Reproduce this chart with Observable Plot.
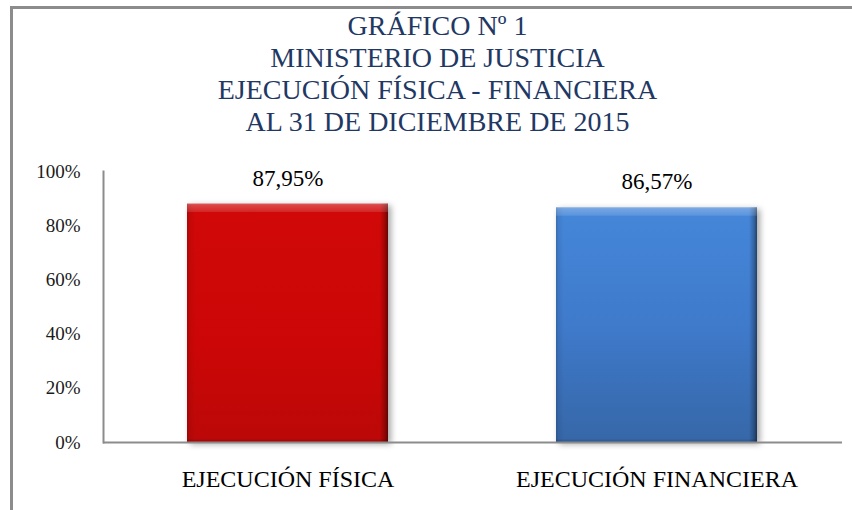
<!DOCTYPE html>
<html><head><meta charset="utf-8">
<script src="https://cdn.jsdelivr.net/npm/d3@7"></script>
<script src="https://cdn.jsdelivr.net/npm/@observablehq/plot@0.6"></script>
<style>
html,body{margin:0;padding:0;background:#fff;}
#wrap{position:relative;width:852px;height:510px;overflow:hidden;background:#fff;}
#border{position:absolute;left:10px;top:6px;width:900px;height:600px;border-left:3px solid #8c8c8c;border-top:3px solid #8c8c8c;}
#title{position:absolute;left:0;top:10px;width:875px;text-align:center;font-family:"Liberation Serif",serif;font-size:28px;line-height:32px;color:#1f3864;}
#chart{position:absolute;left:0;top:150px;}
#chart svg text{font-family:"Liberation Serif",serif;}
</style></head>
<body><div id="wrap"><div id="border"></div><div id="title"></div><div id="chart"></div></div>
<script>
const titleLines = ["GRÁFICO Nº 1", "MINISTERIO DE JUSTICIA", "EJECUCIÓN FÍSICA - FINANCIERA", "AL 31 DE DICIEMBRE DE 2015"];
const categories = ["EJECUCIÓN FÍSICA", "EJECUCIÓN FINANCIERA"];
const values = [87.95, 86.57];
const valueLabels = ["87,95%", "86,57%"];
const yTicks = [0, 20, 40, 60, 80, 100];
const yTickLabels = ["0%", "20%", "40%", "60%", "80%", "100%"];

const data = categories.map((c, i) => ({category: c, value: values[i], label: valueLabels[i], series: i}));

const titleEl = document.getElementById("title");
titleLines.forEach(t => { const d = document.createElement("div"); d.textContent = t; titleEl.appendChild(d); });

const serif = "Liberation Serif";

const chart = Plot.plot({
  width: 852,
  height: 360,
  marginTop: 21,
  marginBottom: 68,
  marginLeft: 103,
  marginRight: 10,
  style: {fontFamily: serif, background: "transparent", overflow: "visible"},
  x: {domain: categories, paddingInner: 0.455, paddingOuter: 0.228},
  y: {domain: [0, 100]},
  marks: [
    Plot.axisY({ticks: yTicks, tickFormat: d => yTickLabels[yTicks.indexOf(d)], tickSize: 0, tickPadding: 23, fontSize: 19, fontFamily: serif, fill: "#1a1a1a", label: null}),
    Plot.axisX({tickSize: 0, tickPadding: 27, fontSize: 24, fontFamily: serif, fill: "#000", label: null}),
    Plot.barY(data.filter(d => d.series === 0), {x: "category", y: "value", fill: "url(#baseRed)"}),
    Plot.barY(data.filter(d => d.series === 1), {x: "category", y: "value", fill: "url(#baseBlue)"}),
    Plot.barY(data, {x: "category", y: "value", fill: "url(#sides)"}),
    Plot.barY(data, {x: "category", y: "value", fill: "url(#topBevel)"}),
    Plot.frame({anchor: "left", stroke: "#8c8c8c", strokeWidth: 2}),
    Plot.ruleY([0], {stroke: "#8c8c8c", strokeWidth: 2}),
    Plot.text(data, {x: "category", y: "value", text: "label", dy: -26, lineAnchor: "middle", fontSize: 23, fontFamily: serif, fill: "#000"})
  ]
});

const svg = d3.select(chart);
svg.insert("defs", ":first-child").html(`
  <linearGradient id="baseRed" x1="0" y1="0" x2="0" y2="1">
    <stop offset="0" stop-color="#d00808"/>
    <stop offset="0.6" stop-color="#cc0606"/>
    <stop offset="1" stop-color="#bb0808"/>
  </linearGradient>
  <linearGradient id="baseBlue" x1="0" y1="0" x2="0" y2="1">
    <stop offset="0" stop-color="#4587da"/>
    <stop offset="0.5" stop-color="#3f7acb"/>
    <stop offset="1" stop-color="#3667a8"/>
  </linearGradient>
  <linearGradient id="sides" x1="0" y1="0" x2="1" y2="0">
    <stop offset="0" stop-color="#000" stop-opacity="0.18"/>
    <stop offset="0.012" stop-color="#000" stop-opacity="0.07"/>
    <stop offset="0.04" stop-color="#000" stop-opacity="0"/>
    <stop offset="0.96" stop-color="#000" stop-opacity="0"/>
    <stop offset="0.985" stop-color="#000" stop-opacity="0.25"/>
    <stop offset="1" stop-color="#000" stop-opacity="0.5"/>
  </linearGradient>
  <linearGradient id="topBevel" x1="0" y1="0" x2="0" y2="1">
    <stop offset="0" stop-color="#fff" stop-opacity="0.35"/>
    <stop offset="0.006" stop-color="#fff" stop-opacity="0.25"/>
    <stop offset="0.034" stop-color="#fff" stop-opacity="0.12"/>
    <stop offset="0.036" stop-color="#fff" stop-opacity="0"/>
    <stop offset="0.985" stop-color="#000" stop-opacity="0"/>
    <stop offset="1" stop-color="#000" stop-opacity="0.18"/>
  </linearGradient>
`);
svg.selectAll("g[aria-label='bar']").filter((d, i) => i < 2).style("filter", "drop-shadow(3px 2px 3px rgba(0,0,0,0.35))");

document.getElementById("chart").appendChild(chart);
</script>
</body></html>
